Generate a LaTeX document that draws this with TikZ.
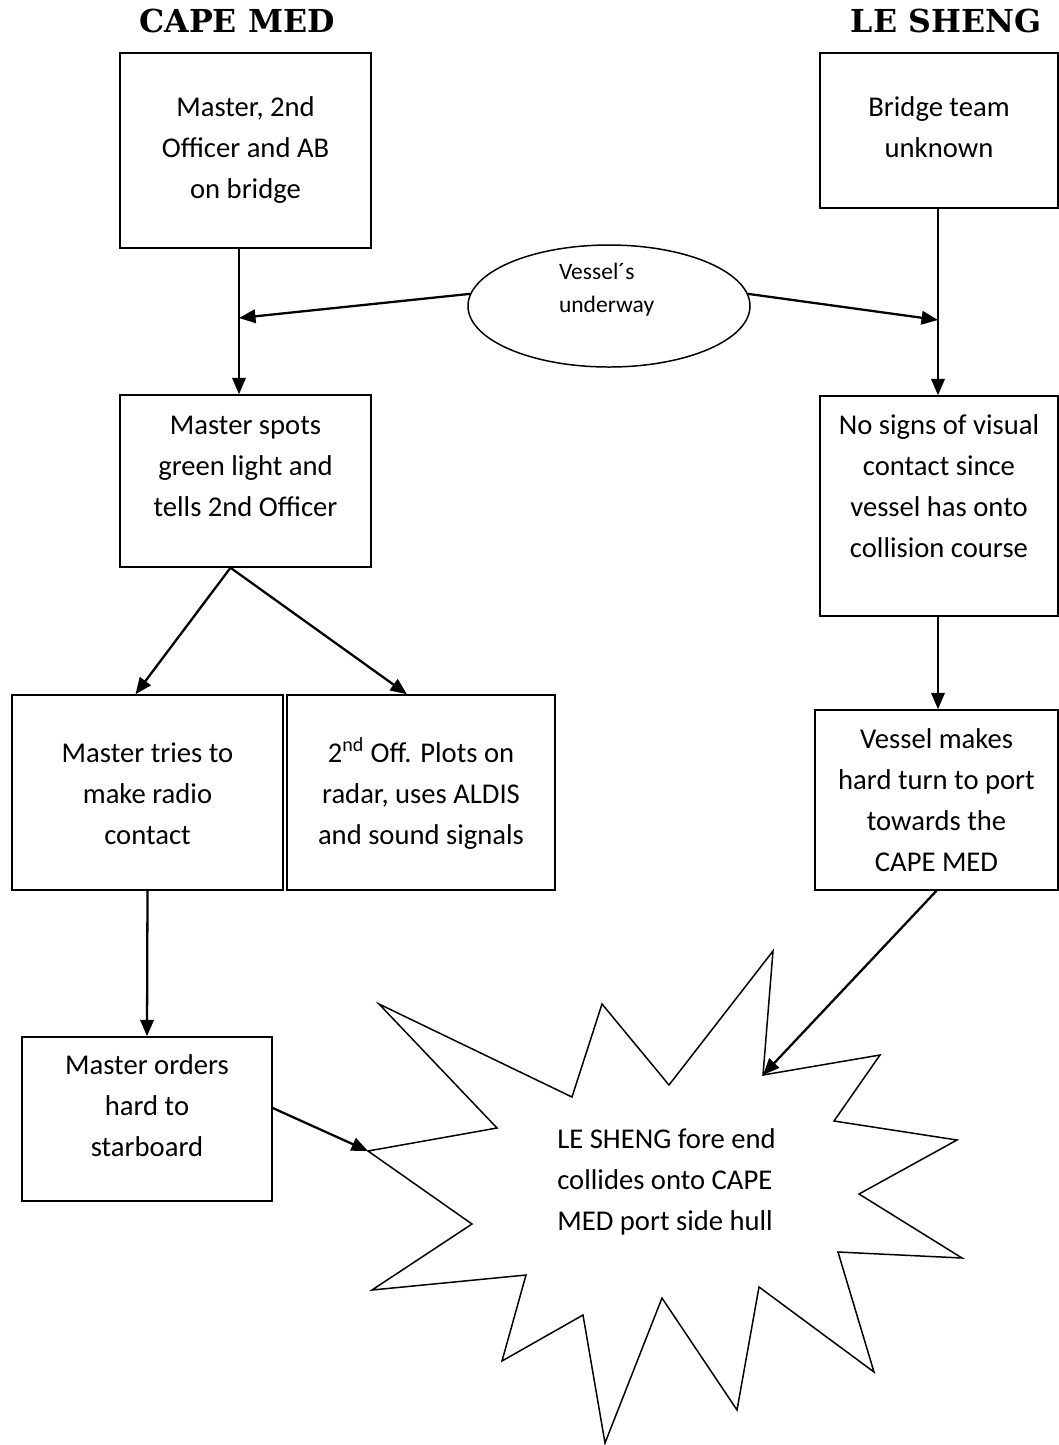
\documentclass[tikz,border=0pt]{standalone}
\usepackage{fontspec}
\setmainfont{Carlito}
\newfontfamily\titlefont{DejaVu Serif}
\usepackage{tikz}
\usetikzlibrary{arrows.meta, positioning, calc, shapes}

\newlength{\px}
\setlength{\px}{0.02cm}
% text of a flow box, pinned near the top: width, height, top gap, lines
\newcommand{\boxtext}[4]{\parbox[c][#2\px][t]{#1\px}{\centering\vspace*{#3\px}\strut #4}}

\begin{document}
\begin{tikzpicture}[
    x=0.02cm, y=-0.02cm,
    flowbox/.style={rectangle, draw, line width=0.85pt, inner sep=0pt, font=\fontsize{16.3}{23.3}\selectfont},
    vessel/.style={ellipse, draw, line width=0.85pt, inner sep=0pt, minimum width=282\px, minimum height=122\px, font=\fontsize{13.4}{18.7}\selectfont},
    shiptitle/.style={font=\titlefont\bfseries\fontsize{18}{20}\selectfont},
    arrow/.style={-{Triangle[length=0.33cm, width=0.27cm]}, line width=1.3pt}
]
    \useasboundingbox (0,0) rectangle (1059,1445);

    % --- Ship names ---
    \node[shiptitle] (cape-title) at (237,21) {CAPE MED};
    \node[shiptitle] (sheng-title) at (946,21) {LE SHENG};

    % --- Top row ---
    \node[flowbox] (cm-bridge) at (245.5,150.5) {\boxtext{251}{195}{35}{Master, 2nd\\Officer and AB\\on bridge}};
    \node[flowbox] (ls-bridge) at (939,130.5) {\boxtext{238}{155}{35}{Bridge team\\unknown}};
    \node[vessel] (underway) at (609,306) {\parbox[c][86\px][t]{100\px}{Vessel´s\\underway}};

    % joins on the two vertical lines
    \coordinate (left-join) at (239,318);
    \coordinate (right-join) at (938,320);

    % --- CAPE MED side ---
    \node[flowbox] (cm-spots) at (245.5,481) {\boxtext{251}{172}{11}{Master spots\\green light and\\tells 2nd Officer}};
    \node[flowbox] (cm-radio) at (147.5,792.5) {\boxtext{271}{195}{39}{Master tries to\\make radio\\contact}};
    \node[flowbox] (cm-plots) at (421,792.5) {\boxtext{268}{195}{39}{2\textsuperscript{nd} Off. Plots on\\radar, uses ALDIS\\and sound signals}};
    \node[flowbox] (cm-helm) at (147,1119) {\boxtext{250}{164}{9}{Master orders\\hard to\\starboard}};

    % --- LE SHENG side ---
    \node[flowbox] (ls-blind) at (939,506) {\boxtext{238}{220}{10}{No signs of visual\\contact since\\vessel has onto\\collision course}};
    \node[flowbox] (ls-turn) at (936.5,800) {\boxtext{243}{180}{10}{Vessel makes\\hard turn to port\\towards the\\CAPE MED}};

    % --- Collision burst ---
    \draw[line width=0.85pt] (379,1004) -- (572,1097) -- (602,1004) -- (669,1085) -- (773,951)
        -- (763,1075) coordinate (hit-right) -- (880,1055) -- (834,1121) -- (957,1140) -- (859,1194)
        -- (962,1258) -- (838,1252) -- (874,1372) -- (759,1287) -- (737,1410) -- (662,1298)
        -- (605,1443) -- (583,1315) -- (502,1361) -- (526,1275) -- (372,1290) -- (472,1224)
        -- (368,1151) coordinate (hit-left) -- (497,1128) -- cycle;
    \node[font=\fontsize{16.3}{23.3}\selectfont, align=left, anchor=west, inner sep=0pt] (collision) at (557,1182) {LE SHENG fore end\\collides onto CAPE\\MED port side hull};

    % --- Connections ---
    \draw[arrow] (cm-bridge.south -| left-join) -- (cm-spots.north -| left-join);
    \draw[arrow] (underway.175) -- (left-join);
    \draw[arrow] (underway.5) -- (right-join);
    \draw[arrow] (ls-bridge.south -| right-join) -- (ls-blind.north -| right-join);

    \draw[arrow] ([xshift=-15\px]cm-spots.south) -- ([xshift=-12\px]cm-radio.north);
    \draw[arrow] ([xshift=-15\px]cm-spots.south) -- ([xshift=-14\px]cm-plots.north);
    \draw[arrow] (cm-radio.south) -- (cm-helm.north);
    \draw[arrow] ([yshift=11\px]cm-helm.east) -- (hit-left);

    \draw[arrow] (ls-blind.south -| right-join) -- (ls-turn.north -| right-join);
    \draw[arrow] (ls-turn.south) -- (hit-right);

\end{tikzpicture}
\end{document}
